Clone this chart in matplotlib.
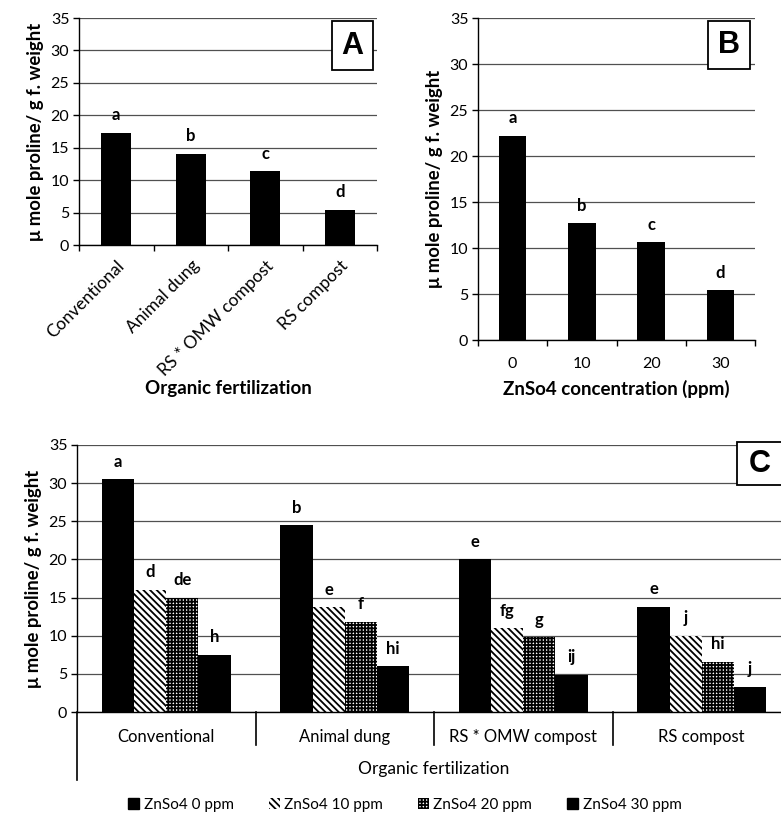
import matplotlib
matplotlib.use("Agg")
import matplotlib.pyplot as plt
from matplotlib.patches import Rectangle, Patch
from matplotlib.lines import Line2D
import numpy as np

plt.rcParams['font.family'] = ['Lato', 'DejaVu Sans']
plt.rcParams['hatch.linewidth'] = 1.3

# ---------------- data ----------------
fert_cats = ["Conventional", "Animal dung", "RS * OMW compost", "RS compost"]
fert_vals = [17.3, 14.1, 11.4, 5.4]
fert_letters = ["a", "b", "c", "d"]

zn_cats = ["0", "10", "20", "30"]
zn_vals = [22.2, 12.7, 10.6, 5.4]
zn_letters = ["a", "b", "c", "d"]

series_names = ["ZnSo4 0 ppm", "ZnSo4 10 ppm", "ZnSo4 20 ppm", "ZnSo4 30 ppm"]
inter_vals = [
    [30.5, 24.5, 20.0, 13.8],   # 0 ppm
    [16.0, 13.7, 11.0, 10.0],   # 10 ppm
    [15.0, 11.8, 9.8, 6.6],     # 20 ppm
    [7.5, 6.0, 4.9, 3.3],       # 30 ppm
]
inter_letters = [
    ["a", "b", "e", "e"],
    ["d", "e", "fg", "j"],
    ["de", "f", "g", "hi"],
    ["h", "hi", "ij", "j"],
]

yticks = [0, 5, 10, 15, 20, 25, 30, 35]
ylabel = "\u03bc mole proline/ g f. weight"

W, H = 781, 814
fig = plt.figure(figsize=(W / 100, H / 100), dpi=100)


def fx(px):
    return px / W


def fy(py):
    return 1 - py / H


def ax_rect(l, t, r, b):
    return [fx(l), fy(b), fx(r) - fx(l), fy(t) - fy(b)]


GRID = "#505050"


def style_axes(ax):
    ax.set_ylim(0, 35)
    ax.set_yticks(yticks)
    ax.yaxis.grid(True, color=GRID, lw=0.9)
    ax.set_axisbelow(True)
    for s in ["top", "right"]:
        ax.spines[s].set_visible(False)
    ax.spines["left"].set_linewidth(1.0)
    ax.spines["bottom"].set_linewidth(1.0)
    ax.tick_params(axis="y", length=4, width=1, labelsize=11.5, pad=3)
    ax.set_ylabel(ylabel, fontsize=13.3, fontweight="bold", labelpad=5)


def letters(ax, xs, vals, labs):
    for x, v, l in zip(xs, vals, labs):
        ax.annotate(l, (x, v), xytext=(0, 9), textcoords="offset points",
                    ha="center", va="baseline", fontsize=12, fontweight="bold")


def box_label(l, t, r, b, txt, tx=None):
    fig.add_artist(Rectangle((fx(l), fy(b)), fx(r) - fx(l), fy(t) - fy(b),
                             transform=fig.transFigure, facecolor="white",
                             edgecolor="black", lw=1.3, zorder=10))
    cx = (fx(l) + fx(r)) / 2 if tx is None else fx(tx)
    fig.text(cx, (fy(t) + fy(b)) / 2, txt, ha="center", va="center",
             fontsize=22, fontweight="bold", family="Liberation Sans", zorder=11)


# ---------------- Panel A ----------------
axA = fig.add_axes(ax_rect(79, 18, 377, 245))
style_axes(axA)
xA = np.arange(len(fert_cats))
axA.bar(xA, fert_vals, width=0.4, color="black")
axA.set_xlim(-0.5, len(fert_cats) - 0.5)
axA.set_xticks(np.arange(len(fert_cats) + 1) - 0.5)
axA.set_xticklabels([])
axA.set_xticks(xA, minor=True)
axA.set_xticklabels(fert_cats, minor=True, rotation=45, ha="right",
                    rotation_mode="anchor", fontsize=12.5)
axA.tick_params(axis="x", which="major", length=4, width=1)
axA.tick_params(axis="x", which="minor", length=0, pad=9)
axA.set_xlabel("Organic fertilization", fontsize=13.5, fontweight="bold", labelpad=1)
letters(axA, xA, fert_vals, fert_letters)

# ---------------- Panel B ----------------
axB = fig.add_axes(ax_rect(478, 18, 755, 340))
style_axes(axB)
xB = np.arange(len(zn_cats))
axB.bar(xB, zn_vals, width=0.4, color="black")
axB.set_xlim(-0.5, len(zn_cats) - 0.5)
axB.set_xticks(np.arange(len(zn_cats) + 1) - 0.5)
axB.set_xticklabels([])
axB.set_xticks(xB, minor=True)
axB.set_xticklabels(zn_cats, minor=True, fontsize=11.5)
axB.tick_params(axis="x", which="major", length=4, width=1)
axB.tick_params(axis="x", which="minor", length=0, pad=12)
axB.set_xlabel("ZnSo4 concentration (ppm)", fontsize=13.5, fontweight="bold", labelpad=7)
letters(axB, xB, zn_vals, zn_letters)

# ---------------- Panel C ----------------
axC = fig.add_axes(ax_rect(77, 445, 791, 712))
style_axes(axC)
xC = np.arange(len(fert_cats))
bw = 0.18
fills = [dict(color="black"),
         dict(facecolor="white", edgecolor="black", hatch="\\\\\\\\\\", lw=0),
         dict(facecolor="white", edgecolor="black", hatch="+++++", lw=0),
         dict(color="black")]
handles = []
for i, (vals, labs, st) in enumerate(zip(inter_vals, inter_letters, fills)):
    pos = xC + (i - 1.5) * bw
    axC.bar(pos, vals, width=bw, **st)
    letters(axC, pos, vals, labs)
    handles.append(Patch(label=series_names[i], **st))
axC.set_xlim(-0.5, len(fert_cats) - 0.5)
axC.set_xticks(xC)
axC.set_xticklabels(fert_cats, fontsize=12)
axC.tick_params(axis="x", length=0, pad=12)
axC.set_xlabel("Organic fertilization", fontsize=12.5, labelpad=12)
# category separators and extended y-axis below the plot
for b in np.arange(1, len(fert_cats)) - 0.5:
    axC.add_line(Line2D([b, b], [0, -4.3], color="black", lw=1.2, clip_on=False))
axC.add_line(Line2D([-0.5, -0.5], [0, -8.9], color="black", lw=1.2, clip_on=False))

fig.legend(handles=handles, loc="center", bbox_to_anchor=(fx(405), fy(805)),
           ncol=4, frameon=False, fontsize=11, handlelength=0.7,
           handleheight=0.7, handletextpad=0.3, columnspacing=2.3)

# panel tags
box_label(332, 21, 373, 70, "A")
box_label(708, 21, 750, 69, "B")
box_label(737, 442, 800, 485, "C", tx=760)

fig.savefig("out.png", dpi=100)
